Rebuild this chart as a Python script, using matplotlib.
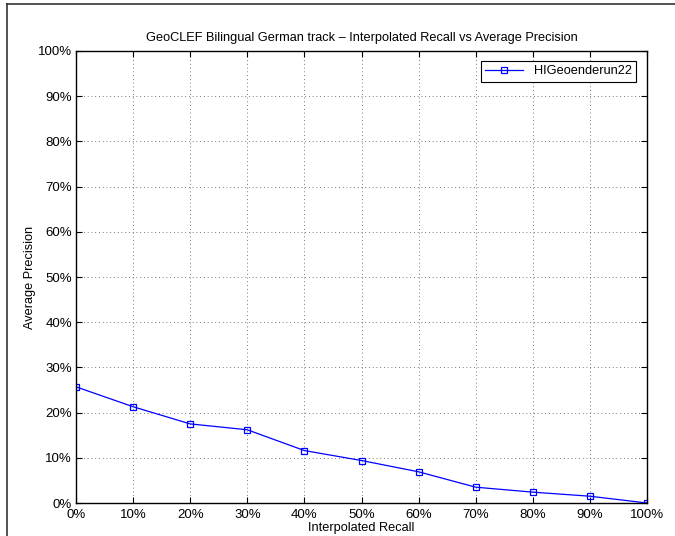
import matplotlib
matplotlib.use("Agg")
import matplotlib.pyplot as plt
from matplotlib.lines import Line2D

plt.rcParams['font.family'] = ['Liberation Sans', 'DejaVu Sans']

# interpolated recall levels and average precision (percent)
recall = [0, 10, 20, 30, 40, 50, 60, 70, 80, 90, 100]
precision = [25.7, 21.3, 17.5, 16.2, 11.6, 9.4, 6.9, 3.5, 2.4, 1.5, 0.0]
run_name = "HIGeoenderun22"
ticks = list(range(0, 101, 10))
tick_labels = [f"{t}%" for t in ticks]

fig = plt.figure(figsize=(6.75, 5.36), dpi=100)
ax = fig.add_axes([76/675, 1-503/536, (647-76)/675, (503-51)/536])

ax.plot(recall, precision, color='#0000ff', lw=0.9, marker='s', ms=4.6,
        mfc='none', mec='#0000ff', mew=0.9, label=run_name)

ax.set_xlim(0, 100); ax.set_ylim(0, 100)
ax.set_xticks(ticks); ax.set_xticklabels(tick_labels)
ax.set_yticks(ticks); ax.set_yticklabels(tick_labels)
ax.tick_params(direction='in', top=True, right=True, length=4, width=0.8,
               labelsize=9.5)
ax.tick_params(axis='x', pad=4)
ax.tick_params(axis='y', pad=3)
ax.grid(True, ls=(0, (1, 3.5)), color='0.3', lw=0.6)
for s in ax.spines.values():
    s.set_linewidth(1.0)

ax.set_xlabel("Interpolated Recall", fontsize=9.2, labelpad=1)
ax.set_ylabel("Average Precision", fontsize=9.2, labelpad=1)
ax.set_title("GeoCLEF Bilingual German track \u2013 Interpolated Recall vs Average Precision",
             fontsize=9.2, pad=7)

leg = ax.legend(loc='upper right', fontsize=9.2, fancybox=False, framealpha=1,
                edgecolor='k', handlelength=3.0, borderpad=0.35,
                bbox_to_anchor=(0.981, 0.978), borderaxespad=0)
leg.get_frame().set_linewidth(0.8)

# outer frame (top and left edges visible in crop)
fig.add_artist(Line2D([7/675, 7/675], [0, 1-4/536], color='#333333', lw=1.2))
fig.add_artist(Line2D([7/675, 1], [1-4/536, 1-4/536], color='#333333', lw=1.2))

fig.savefig("out.png", dpi=100)
